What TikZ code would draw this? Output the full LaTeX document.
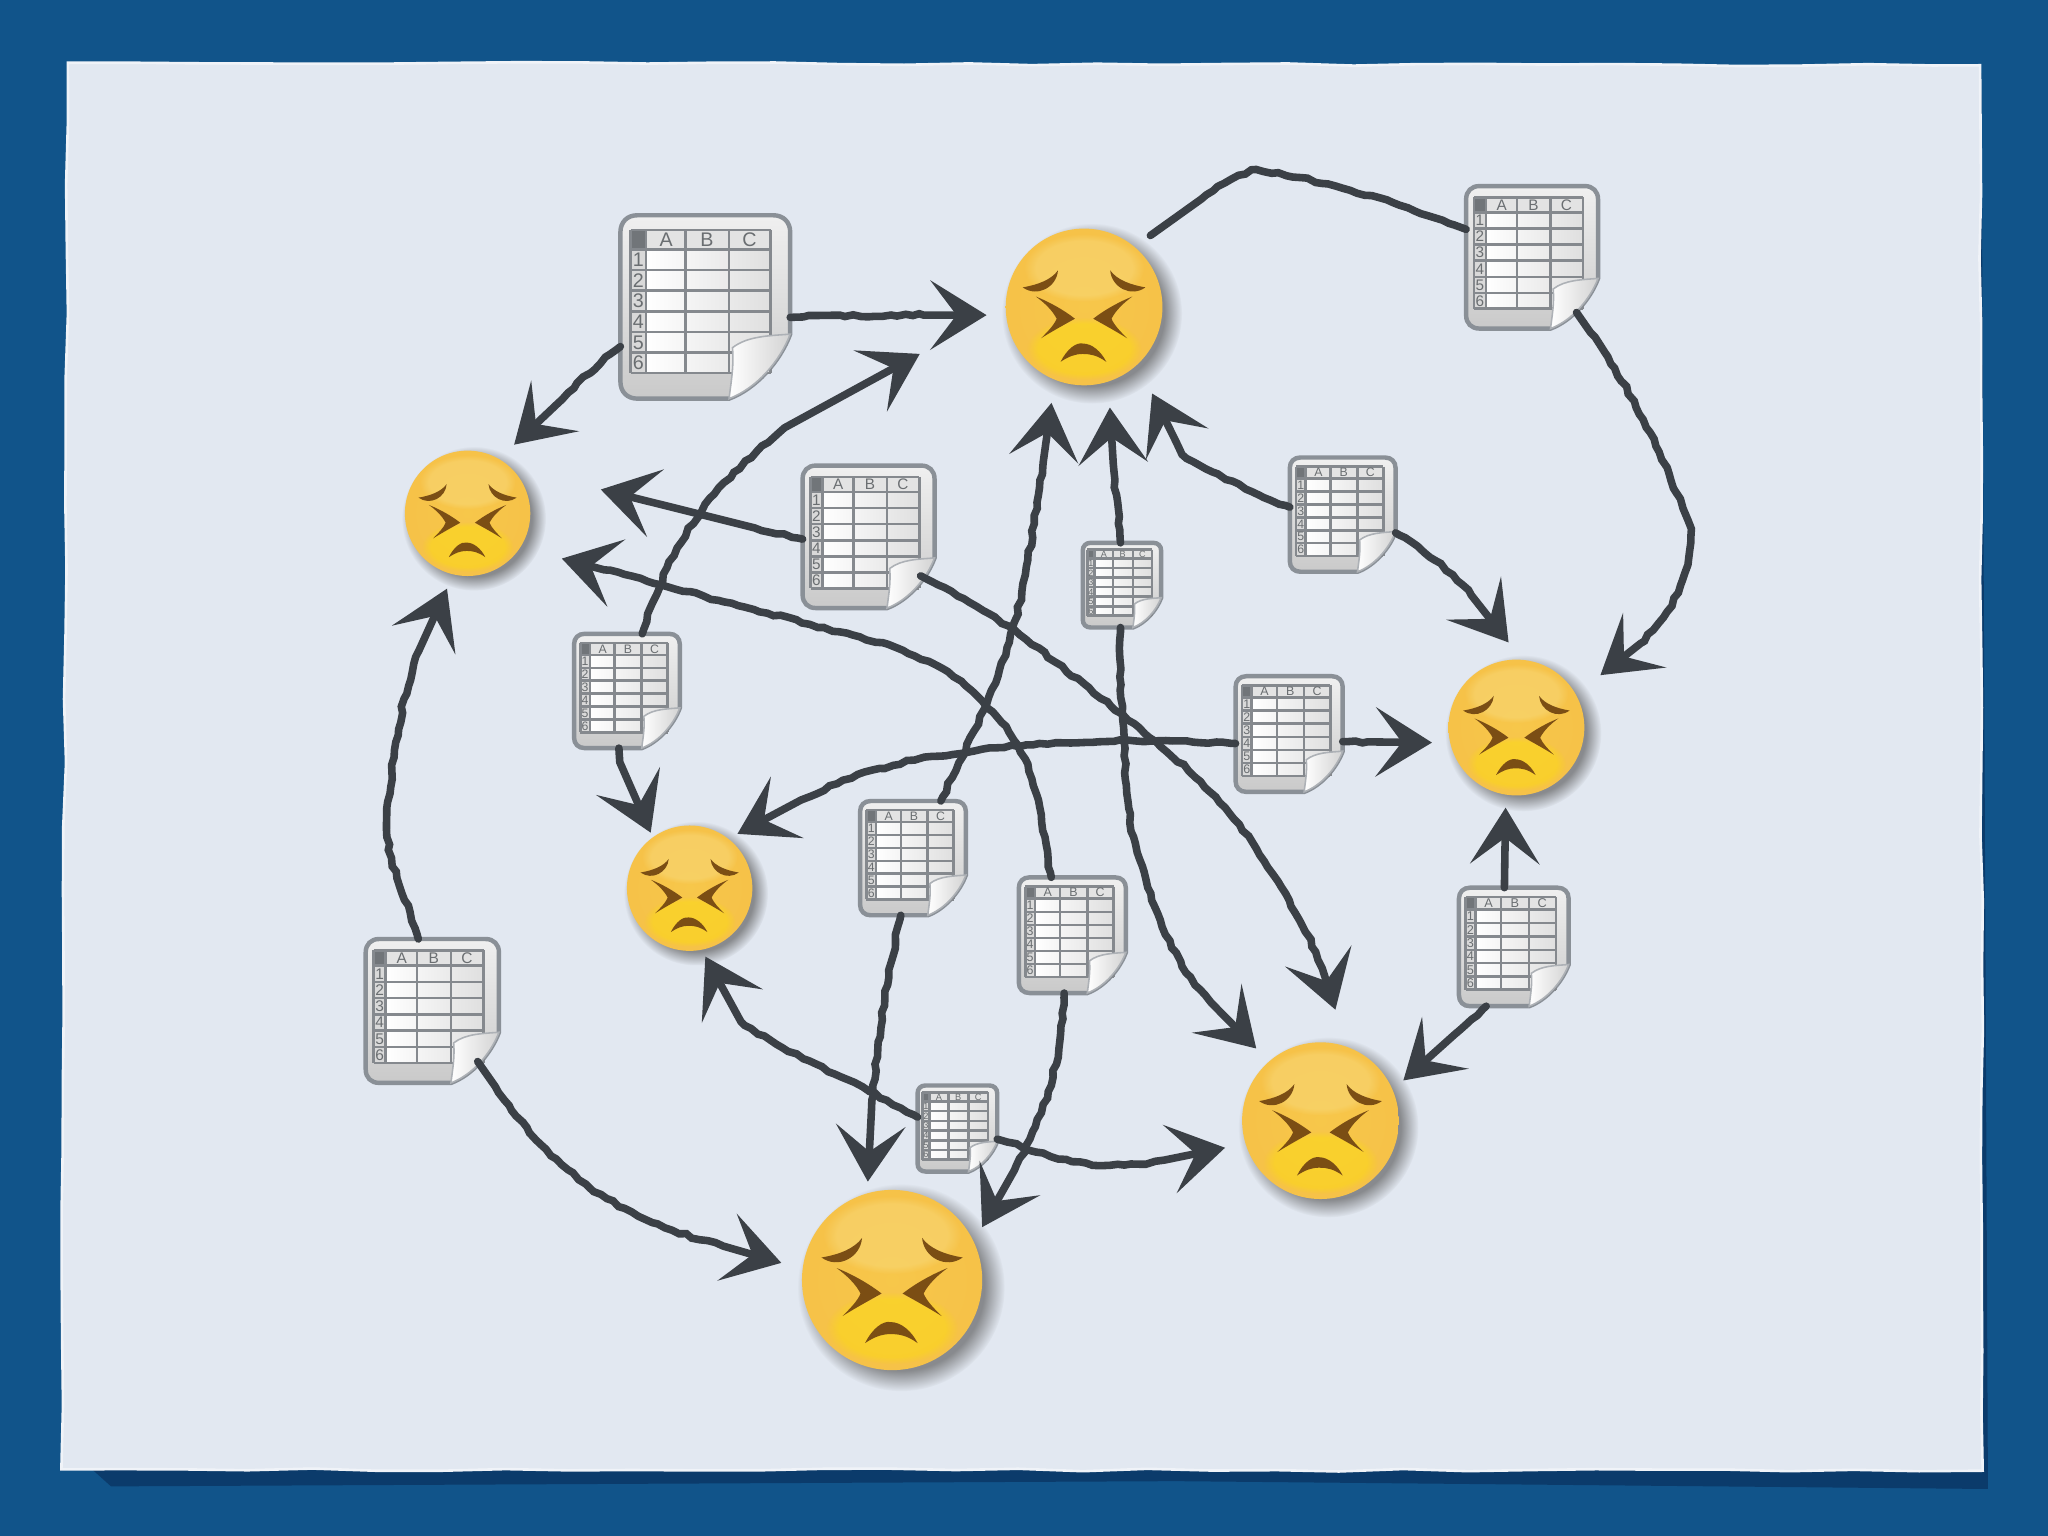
\documentclass[tikz,border=0pt]{standalone}
\usepackage{fontspec}
\setsansfont{Liberation Sans}
\usepackage{xcolor}
\usetikzlibrary{arrows.meta,decorations.pathmorphing,fadings}
\definecolor{pagecol}{HTML}{11548A}
\definecolor{pagedark}{HTML}{0B3B6B}
\definecolor{papercol}{HTML}{E2E8F1}
\definecolor{chalkcol}{HTML}{3B4046}
\definecolor{browcol}{HTML}{7B4E14}
\definecolor{rimcol}{HTML}{8A9097}
\definecolor{gridcol}{HTML}{85898E}
\definecolor{glowcol}{HTML}{F9E08A}
\pgfdeclareradialshading{faceball}{\pgfpoint{0bp}{0bp}}{%
  rgb(0bp)=(0.97,0.78,0.29);rgb(36bp)=(0.96,0.75,0.28);rgb(45bp)=(0.94,0.67,0.25);rgb(50bp)=(0.89,0.58,0.22)}

\begin{document}
\begin{tikzpicture}[
  x=0.1mm, y=-0.1mm,
  sheetnode/.style={rectangle, inner sep=0pt, outer sep=0pt},
  facenode/.style={circle, inner sep=0pt, outer sep=0pt},
  sheetlabel/.style={inner sep=0pt, text=gridcol!80!black, font=\fontsize{3.3}{4}\selectfont\sffamily},
  chalk/.style={draw=chalkcol, line width=0.58mm, line cap=round, decorate,
    decoration={random steps, segment length=1.6pt, amplitude=0.3pt, pre length=1pt, post length=18pt}},
  flow/.style={chalk, shorten >=#1, -{Stealth[length=4.3mm, width=5.3mm, inset=2mm]}},
  flow/.default=1.4mm,
  sheet/.pic={
    \filldraw[draw=rimcol, line width=0.34mm, top color=white!88!gray, bottom color=gray!42]
      (-40,-54) -- (40,-54) .. controls (46,-54) and (50,-50) .. (50,-44) -- (50,16)
      .. controls (44,32) and (30,48) .. (14,54) -- (-40,54)
      .. controls (-46,54) and (-50,50) .. (-50,44) -- (-50,-44)
      .. controls (-50,-50) and (-46,-54) .. (-40,-54) -- cycle;
    \fill[left color=white, right color=gray!25] (-35,-34) rectangle (38.5,39);
    \fill[gray!22] (-35,-45.4) rectangle (38.5,-34);
    \fill[gray!30] (-44,-34) rectangle (-35,39);
    \fill[gridcol!85!black] (-44,-45.4) rectangle (-35,-34);
    \foreach \gx in {-44,-35,-11.5,14,38.5}
      \draw[gridcol, line width=0.2mm] (\gx,-45.4) -- (\gx,39);
    \foreach \gy in {-45.4,-34,-21.8,-9.6,2.6,14.8,27,39}
      \draw[gridcol, line width=0.2mm] (-44,\gy) -- (38.5,\gy);
    \foreach \lab/\gx in {A/-23,B/1,C/26}
      \node[sheetlabel] (col\lab) at (\gx,-39.7) {\lab};
    \foreach \lab/\gy in {1/-27.9,2/-15.7,3/-3.5,4/8.7,5/20.9,6/33}
      \node[sheetlabel] (row\lab) at (-39.5,\gy) {\lab};
    \filldraw[draw=rimcol!70, line width=0.12mm, left color=white, right color=gray!35]
      (50,16) .. controls (38,17) and (25,17) .. (16,24) .. controls (17,35) and (15,45) .. (14,54)
      .. controls (30,48) and (44,32) .. (50,16) -- cycle;
  },
  sadface/.pic={
    \fill[gray!70!black, opacity=0.65, path fading=circle with fuzzy edge 20 percent] (6,5) circle (69);
    \shade[shading=faceball] (0,0) circle (60);
    \fill[glowcol, opacity=0.4, path fading=circle with fuzzy edge 20 percent] (0,-30) ellipse (46 and 26);
    \fill[yellow!85!orange, opacity=0.4, path fading=circle with fuzzy edge 20 percent] (0,32) ellipse (44 and 24);
    \foreach \m in {1,-1} {
      \begin{scope}[xscale=\m]
        \fill[browcol] (-47,-15) .. controls (-35,-17) and (-25,-21) .. (-20,-28)
          .. controls (-21,-15) and (-36,-7) .. (-47,-15) -- cycle;
        \fill[browcol] (-37,-8) .. controls (-27,-4) and (-16,2) .. (-7,9)
          .. controls (-16,14) and (-25,19) .. (-33,24) .. controls (-28,19) and (-23,14) .. (-21,9)
          .. controls (-24,3) and (-30,-3) .. (-37,-8) -- cycle;
      \end{scope}
    }
    \fill[browcol] (-18,42) .. controls (-13,32) and (-6,27) .. (-1,28) .. controls (6,28) and (13,34) .. (17,42)
      .. controls (10,37) and (5,36) .. (-1,36) .. controls (-7,36) and (-12,38) .. (-18,42) -- cycle;
  }
]
\useasboundingbox (0,0) rectangle (1568,1176);
\pgfmathsetseed{11}
\fill[pagecol] (0,0) rectangle (1568,1176);
\fill[pagedark] (65,1120) -- (1522,1120) -- (1522,1140) -- (900,1134) -- (85,1138) -- cycle;
\fill[pagedark] (1505,60) -- (1517,56) -- (1522,1138) -- (1505,1130) -- cycle;
\filldraw[fill=papercol, draw=papercol!50!white, line width=0.2mm, decorate,
  decoration={random steps, segment length=14pt, amplitude=0.3pt}]
  (52,48) -- (1516,50) -- (1518,1126) -- (47,1125) -- cycle;

\foreach \name/\x/\y/\s in {
  sheetA/540/235/1.30, sheetB/1173/197/1.01, sheetC/665/411/1.01, sheetD/1028/394/0.81,
  sheetE/859/448/0.60, sheetF/480/529/0.81, sheetG/987/562/0.82, sheetH/699/657/0.81,
  sheetI/821/716/0.82, sheetJ/1159/725/0.84, sheetK/331/774/1.02, sheetL/733/864/0.61} {
  \pic (\name-) [scale=\s, transform shape] at (\x,\y) {sheet};
  \node[sheetnode, minimum width=\s*10mm, minimum height=\s*10.8mm] (\name) at (\x,\y) {};
}
\foreach \name/\x/\y/\r in {
  faceTop/830/235/60, faceLeft/358/393/48, faceRight/1161/557/52,
  faceMid/528/680/48, faceLow/1011/858/60, faceBig/683/980/69} {
  \pic (\name-) [scale=\r/60, transform shape] at (\x,\y) {sadface};
  \node[facenode, minimum size=\r*0.2mm] (\name) at (\x,\y) {};
}

\draw[flow=1.5mm] (sheetA.-7) to[out=2,in=180] (faceTop.186);
\draw[flow=1.6mm] (sheetA.205) to[out=218,in=40] (faceLeft.60);
\draw[flow=7.5mm, decoration={post length=55pt}] (sheetF.75) to[out=72,in=222] (580,345) to[out=42,in=208] (faceTop.180);
\draw[flow=7.2mm, decoration={post length=55pt}] (sheetC.182) to[out=167,in=-14] (faceLeft.48);
\draw[flow=3.3mm] (sheetI.110) to[out=100,in=-48] (760,545) to[out=132,in=-15] (620,478) to[out=165,in=-15] (faceLeft.327);
\draw[flow=0.4mm] (sheetF.262) to[out=-88,in=118] (faceMid.126);
\draw[flow=1.8mm] (sheetH.64) to[out=65,in=-100] (785,440) to[out=80,in=-98] (faceTop.248);
\draw[flow=2mm] (sheetE.92) to[out=95,in=-88] (faceTop.288);
\draw[flow=2.5mm] (sheetD.172) to[out=158,in=-30] (905,348) to[out=115,in=-64] (faceTop.313);
\draw[flow=1.7mm] (sheetD.-19) to[out=-30,in=128] (faceRight.85);
\draw[flow=2.4mm, shorten <=-1.5mm] (sheetB.-52) to[out=-55,in=112] (1295,405) to[out=-90,in=35] (faceRight.29);
\draw[chalk, shorten >=1.5mm] (sheetB.157) to[out=160,in=-8] (958,130) to[out=205,in=32] (faceTop.50);
\draw[flow] (sheetG.-8) -- (faceRight.193);
\draw[flow=0.8mm] (sheetG.190) to[out=178,in=10] (700,582) to[out=192,in=28] (faceMid.52);
\draw[flow=3mm, shorten <=-1.2mm] (sheetC.-35) to[out=-27,in=142] (850,540) to[out=-38,in=122] (975,670) to[out=-58,in=105] (faceLow.70);
\draw[flow] (sheetE.-92) to[out=-90,in=95] (865,630) to[out=-75,in=118] (905,740) to[out=-55,in=132] (faceLow.131);
\draw[flow=1mm] (sheetJ.99) -- (faceRight.261);
\draw[flow=1.1mm] (sheetJ.-115) -- (faceLow.23);
\draw[flow=1.2mm] (sheetK.101) to[out=105,in=-88] (296,630) to[out=85,in=-118] (faceLeft.257);
\draw[flow=1.7mm, shorten <=-2mm] (sheetK.-50) to[out=-55,in=142] (450,908) to[out=-35,in=162] (faceBig.173);
\draw[flow=0.9mm] (sheetH.-102) to[out=-102,in=88] (faceBig.106);
\draw[flow=1.3mm] (sheetI.-98) to[out=-92,in=60] (faceBig.25);
\draw[flow=0.6mm] (sheetL.164) to[out=150,in=-32] (570,785) to[out=135,in=-62] (faceMid.281);
\draw[flow=1.6mm] (sheetL.-15) to[out=-15,in=180] (850,892) to[out=0,in=188] (faceLow.197);
\end{tikzpicture}
\end{document}
